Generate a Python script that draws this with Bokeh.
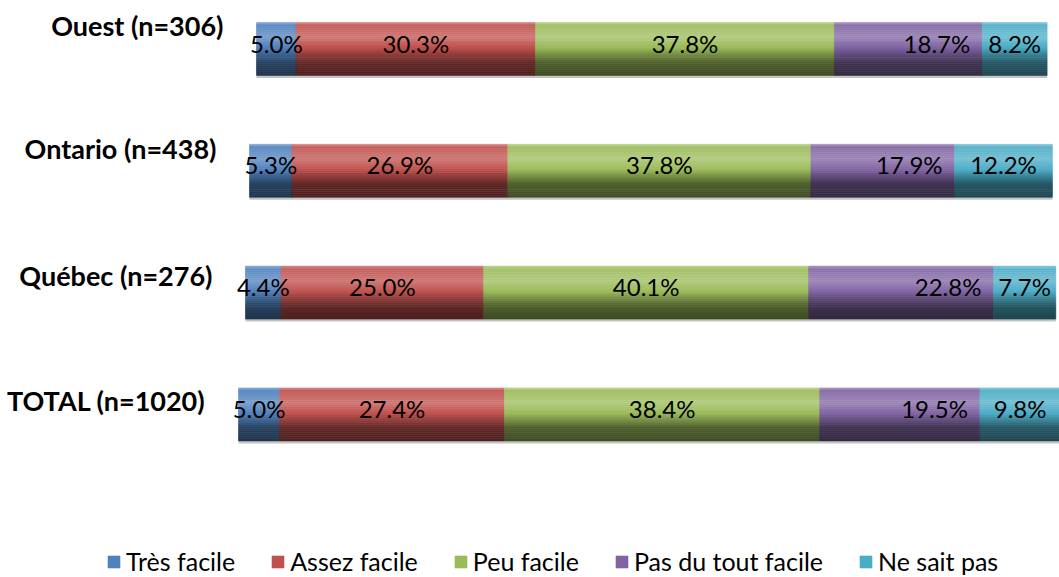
from bokeh.plotting import figure
from bokeh.models import Range1d, Legend, LegendItem, ColumnDataSource
from bokeh.core.properties import value
from bokeh.embed import file_html
from bokeh.resources import INLINE

# Survey results: share of answers per region (percent)
regions = ["Ouest (n=306)", "Ontario (n=438)", "Québec (n=276)", "TOTAL (n=1020)"]
answers = ["Très facile", "Assez facile", "Peu facile", "Pas du tout facile", "Ne sait pas"]
tres_facile = [5.0, 5.3, 4.4, 5.0]
assez_facile = [30.3, 26.9, 25.0, 27.4]
peu_facile = [37.8, 37.8, 40.1, 38.4]
pas_du_tout_facile = [18.7, 17.9, 22.8, 19.5]
ne_sait_pas = [8.2, 12.2, 7.7, 9.8]
series = [tres_facile, assez_facile, peu_facile, pas_du_tout_facile, ne_sait_pas]
colors = ["#4F81BD", "#C0504D", "#9BBB59", "#8064A2", "#4BACC6"]
# value labels sit centred in their segment, except the 4th series (near segment end)
label_anchor = ["center", "center", "center", "right", "center"]

# Perspective of the tilted chart: each row is shifted and scaled slightly
row_shift = [2.19, 1.34, 0.85, 0.0]
row_scale = [0.963, 0.977, 0.987, 1.0]
label_lift = [0.193, 0.18, 0.144, 0.115]

W, H = 1059, 577
PX_PER_UNIT = 8.21
ROW_PX = 121.8
x0_px, y0_px = 238, 48.5
half_h = 26.5 / ROW_PX

p = figure(width=W, height=H, output_backend="svg", toolbar_location=None,
           x_range=Range1d(-x0_px / PX_PER_UNIT, (W - x0_px) / PX_PER_UNIT),
           y_range=Range1d((H - y0_px) / ROW_PX, -y0_px / ROW_PX),
           x_axis_location=None, y_axis_location=None, min_border=0)
p.grid.visible = False
p.outline_line_color = None
p.background_fill_color = "white"


def hex_rgb(h):
    h = h.lstrip("#")
    return [int(h[i:i + 2], 16) for i in (0, 2, 4)]


def shade(h, m):
    r = hex_rgb(h)
    if m >= 0:
        r = [c + (255 - c) * m for c in r]
    else:
        r = [c * (1 + m) for c in r]
    return "#%02x%02x%02x" % tuple(int(round(max(0, min(255, c)))) for c in r)


# cylinder shading profile, top (0) to bottom (1)
stops = [(0.0, 0.4), (0.05, 0.08), (0.28, 0.24), (0.48, 0.0), (0.75, -0.48), (1.0, -0.6)]


def profile(t):
    for (t1, m1), (t2, m2) in zip(stops[:-1], stops[1:]):
        if t1 <= t <= t2:
            return m1 + (m2 - m1) * (t - t1) / (t2 - t1)
    return stops[-1][1]


N_STRIPS = 26
BASE_STRIP = 12  # strip whose shade is the plain series colour
strips = [dict(left=[], right=[], top=[], bottom=[], color=[]) for _ in series]
sh_l, sh_r, sh_t, sh_b = [], [], [], []
lab = {"center": dict(x=[], y=[], t=[]), "right": dict(x=[], y=[], t=[])}
for i in range(len(regions)):
    cum = 0.0
    for j, vals in enumerate(series):
        v = vals[i]
        left = row_shift[i] + cum * row_scale[i]
        right = row_shift[i] + (cum + v) * row_scale[i]
        cum += v
        d = strips[j]
        for k in range(N_STRIPS):
            t = (k + 0.5) / N_STRIPS
            d["left"].append(left)
            d["right"].append(right)
            d["top"].append(i - half_h + 2 * half_h * k / N_STRIPS)
            d["bottom"].append(i - half_h + 2 * half_h * (k + 1) / N_STRIPS)
            d["color"].append(shade(colors[j], profile(t)))
        a = label_anchor[j]
        lab[a]["x"].append((left + right) / 2 if a == "center" else right)
        lab[a]["y"].append(i - 6 / ROW_PX)
        lab[a]["t"].append(f"{v:.1f}%")
    sh_l.append(row_shift[i])
    sh_r.append(row_shift[i] + cum * row_scale[i])
    sh_t.append(i + half_h)
    sh_b.append(i + half_h + 2.5 / ROW_PX)

# thin shadow under each bar
p.quad(left=sh_l, right=sh_r, top=sh_t, bottom=sh_b, fill_color="#c4c4c4",
       line_color=None)

items = []
for name, d in zip(answers, strips):
    r = p.quad(left="left", right="right", top="top", bottom="bottom",
               source=ColumnDataSource(d), fill_color="color", line_color="color",
               line_width=0.6)
    items.append(LegendItem(label=name, renderers=[r], index=BASE_STRIP))

label_style = dict(text_baseline="middle", text_font=value("Lato"),
                   text_font_size="24px", text_color="black")
p.text(x=lab["center"]["x"], y=lab["center"]["y"], text=lab["center"]["t"],
       text_align="center", **label_style)
p.text(x=lab["right"]["x"], y=lab["right"]["y"], text=lab["right"]["t"],
       text_align="right", x_offset=-12, **label_style)

p.text(x=row_shift, y=[i - label_lift[i] for i in range(len(regions))], text=regions,
       x_offset=-33, text_align="right", text_baseline="middle",
       text_font=value("Lato"), text_font_style="bold", text_font_size="27px",
       text_color="black")

legend = Legend(items=items, orientation="horizontal", location=(106, 1),
                glyph_width=15, glyph_height=15, label_standoff=5, spacing=35,
                label_height=26, padding=0, margin=0, border_line_color=None,
                background_fill_alpha=0, label_text_font="Lato",
                label_text_font_size="25px", label_text_color="black")
p.add_layout(legend)

open("out.html", "w").write(file_html(p, INLINE))
